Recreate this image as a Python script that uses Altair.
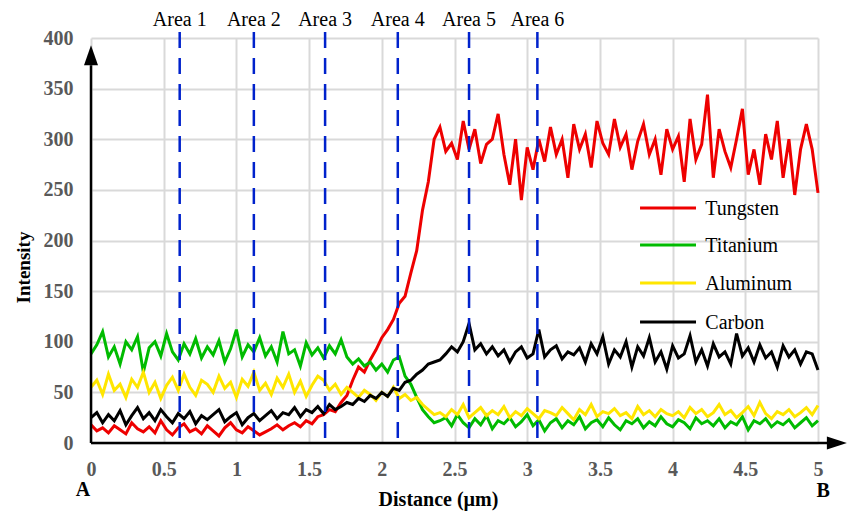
import altair as alt
import pandas as pd

# ---------------- data ----------------
x_step = 0.04  # sample spacing along the line scan (µm)

tungsten = [18, 12, 15, 10, 17, 13, 9, 20, 14, 11,
            16, 10, 22, 13, 8, 15, 19, 11, 14, 9,
            17, 12, 7, 15, 20, 13, 10, 16, 12, 8,
            11, 14, 18, 13, 17, 20, 16, 22, 19, 26,
            28, 33, 31, 40, 47, 62, 75, 70, 82, 92,
            104, 112, 122, 138, 145, 168, 190, 230, 258, 300,
            312, 288, 296, 280, 318, 290, 310, 276, 295, 300,
            325, 285, 255, 300, 240, 292, 270, 300, 278, 312,
            285, 300, 262, 315, 290, 305, 272, 318, 296, 285,
            320, 292, 305, 270, 298, 315, 285, 300, 265, 310,
            290, 303, 258, 320, 280, 295, 344, 262, 310, 288,
            272, 300, 330, 265, 290, 255, 305, 280, 318, 262,
            300, 245, 290, 315, 290, 247]

titanium = [88, 97, 110, 85, 95, 78, 100, 92, 105, 70,
            94, 100, 86, 108, 90, 82, 98, 88, 103, 84,
            95, 87, 101, 80, 93, 112, 85, 97, 90, 104,
            86, 95, 80, 110, 88, 92, 76, 99, 87, 94,
            84, 96, 88, 102, 85, 78, 83, 76, 80, 72,
            78, 70, 82, 85, 66, 58, 45, 33, 26, 20,
            22, 25, 17, 28, 20, 15, 24, 18, 27, 14,
            22, 19, 25, 16, 21, 28, 17, 23, 12, 20,
            24, 15, 22, 18, 26, 14, 20, 23, 16, 25,
            18, 13, 22, 19, 24, 15, 21, 17, 26, 19,
            16, 23, 20, 14, 25, 19, 22, 17, 24, 15,
            21, 18, 26, 13, 22, 19, 24, 16, 21, 18,
            23, 15, 20, 25, 17, 22]

aluminum = [55, 62, 48, 68, 52, 58, 45, 63, 55, 70,
            50, 60, 44, 57, 65, 52, 68, 55, 47, 62,
            58, 50, 66, 54, 60, 45, 63, 56, 70, 52,
            59, 48, 64, 55, 68, 50, 61, 46, 57, 66,
            62, 52, 58, 48, 55, 50, 45, 52, 48, 42,
            50, 46, 55, 44, 48, 42, 45, 38, 33, 28,
            30, 26, 33, 28, 38, 25, 30, 35, 27, 32,
            28, 36, 25, 31, 27, 34, 29, 24, 32, 30,
            27, 35, 29, 23, 33, 28, 38, 26, 31, 29,
            34, 27, 30, 24, 36, 28, 32, 26, 33, 29,
            27, 31, 25, 35, 29, 33, 26, 30, 38, 28,
            32, 25, 30, 36, 27, 40, 29, 24, 31, 28,
            33, 26, 30, 35, 28, 37]

carbon = [25, 30, 20, 28, 22, 32, 18, 27, 35, 24,
          30, 22, 33, 26, 20, 29, 24, 31, 19, 27,
          23, 28, 33, 21, 26, 30, 18, 25, 29, 22,
          27, 32, 24, 30, 28, 35, 26, 33, 30, 36,
          29, 38, 33, 36, 40, 38, 44, 41, 47, 44,
          50, 46, 54, 52, 60, 62, 68, 72, 78, 80,
          82, 88, 95, 90, 100, 118, 92, 98, 88, 95,
          86, 92, 80, 90, 95, 84, 88, 112, 85, 92,
          96, 83, 90, 87, 94, 80, 98, 88, 105, 78,
          92, 85, 100, 75, 95, 86, 104, 80, 90, 73,
          96, 84, 88, 106, 80, 92, 76, 98, 85, 90,
          78, 108, 86, 94, 80, 97, 84, 90, 75, 96,
          85, 92, 78, 90, 88, 72]

series_names = ["Tungsten", "Titanium", "Aluminum", "Carbon"]
series_colors = ["#ee0000", "#00bb00", "#ffe600", "#000000"]

area_labels = ["Area 1", "Area 2", "Area 3", "Area 4", "Area 5", "Area 6"]
area_positions = [0.61, 1.12, 1.61, 2.11, 2.60, 3.07]

x_ticks = [0, 0.5, 1, 1.5, 2, 2.5, 3, 3.5, 4, 4.5, 5]
y_ticks = [0, 50, 100, 150, 200, 250, 300, 350, 400]

end_labels = ["A", "B"]
end_label_x = [-0.055, 5.035]
end_label_y = [-46, -47]

# in-plot legend placement (data units)
legend_row_y = [232, 195.5, 158, 119.5]
legend_x0, legend_x1, legend_text_x = 3.776, 4.161, 4.225

# ---------------- tables ----------------
n = len(tungsten)
dist = [round(i * x_step, 2) for i in range(n)]
rows = []
for name, vals in zip(series_names, [tungsten, titanium, aluminum, carbon]):
    for d, v in zip(dist, vals):
        rows.append({"Distance": d, "Intensity": v, "Element": name})
df = pd.DataFrame(rows)

df_area = pd.DataFrame({"Distance": area_positions, "label": area_labels,
                        "Intensity": [406] * 6, "bottom": [0] * 6, "labely": [412] * 6})

df_legend = pd.DataFrame({"Element": series_names, "Intensity": legend_row_y,
                          "Distance": [legend_x0] * 4, "x1": [legend_x1] * 4,
                          "tx": [legend_text_x] * 4})

df_yaxis = pd.DataFrame({"Distance": [0], "Intensity": [0], "y1": [373]})
df_xaxis = pd.DataFrame({"Distance": [0], "x1": [5.07], "Intensity": [0]})
df_yarrow = pd.DataFrame({"Distance": [0], "Intensity": [383]})
df_xarrow = pd.DataFrame({"Distance": [5.13], "Intensity": [0]})
df_ends = pd.DataFrame({"Distance": end_label_x, "Intensity": end_label_y, "t": end_labels})

SERIF = "Liberation Serif"
xscale = alt.Scale(domain=[0, 5], nice=False, zero=False)
yscale = alt.Scale(domain=[0, 400], nice=False)
cscale = alt.Scale(domain=series_names, range=series_colors)

x_axis = alt.Axis(values=x_ticks, format="~g", grid=True, gridColor="#d9d9d9", gridWidth=2,
                  domain=False, ticks=False, labelFont=SERIF, labelFontWeight="bold",
                  labelFontSize=20, labelColor="#595959", labelPadding=16, labelFlush=False,
                  title="Distance (µm)", titleFont=SERIF, titleFontWeight="bold",
                  titleFontSize=20, titleColor="black", titleX=347, titleY=62,
                  titleAlign="center", titleBaseline="alphabetic")
y_axis = alt.Axis(values=y_ticks, grid=True, gridColor="#d9d9d9", gridWidth=2,
                  domain=False, ticks=False, labelFont=SERIF, labelFontWeight="bold",
                  labelFontSize=20, labelColor="#595959", labelPadding=18, labelFlush=False,
                  title="Intensity", titleFont=SERIF, titleFontWeight="bold",
                  titleFontSize=19, titleColor="black", titleAngle=270, titleX=-62, titleY=229,
                  titleAlign="center", titleBaseline="alphabetic")

X = lambda f="Distance:Q": alt.X(f, scale=xscale, axis=x_axis)
Y = lambda f="Intensity:Q": alt.Y(f, scale=yscale, axis=y_axis)

lines = alt.Chart(df).mark_line(strokeWidth=3).encode(
    x=X(),
    y=Y(),
    color=alt.Color("Element:N", sort=series_names, scale=cscale, legend=None),
    order=alt.Order("Distance:Q"),
)

legend_lines = alt.Chart(df_legend).mark_rule(strokeWidth=3).encode(
    x=X(), x2="x1:Q", y=Y(),
    color=alt.Color("Element:N", sort=series_names, scale=cscale, legend=None),
)
legend_text = alt.Chart(df_legend).mark_text(font=SERIF, fontSize=20, color="black",
                                             align="left", baseline="middle", dy=1).encode(
    x=X("tx:Q"), y=Y(), text="Element:N",
)

area_rules = alt.Chart(df_area).mark_rule(color="#0022cc", strokeWidth=2.5, strokeDash=[16, 10]).encode(
    x=X(), y=Y(), y2="bottom:Q",
)

area_text = alt.Chart(df_area).mark_text(font=SERIF, fontSize=20, color="black",
                                         baseline="alphabetic", align="center").encode(
    x=X(), y=Y("labely:Q"), text="label:N",
)

y_line = alt.Chart(df_yaxis).mark_rule(color="black", strokeWidth=2.5).encode(
    x=X(), y=Y(), y2="y1:Q",
)
x_line = alt.Chart(df_xaxis).mark_rule(color="black", strokeWidth=2.5).encode(
    x=X(), x2="x1:Q", y=Y(),
)
y_arrow = alt.Chart(df_yarrow).mark_point(shape="M0,-1L0.7,1L-0.7,1Z", size=400, filled=True,
                                          color="black", opacity=1).encode(x=X(), y=Y())
x_arrow = alt.Chart(df_xarrow).mark_point(shape="M1,0L-1,-0.65L-1,0.65Z", size=400, filled=True,
                                          color="black", opacity=1).encode(x=X(), y=Y())
ends = alt.Chart(df_ends).mark_text(font=SERIF, fontSize=20, fontWeight="bold", color="black",
                                    align="center", baseline="middle").encode(
    x=X(), y=Y(), text="t:N",
)

chart = alt.layer(lines, area_rules, area_text, legend_lines, legend_text,
                  y_line, x_line, y_arrow, x_arrow, ends).properties(
    width=727, height=405,
    autosize=alt.AutoSizeParams(type="none"),
    padding={"left": 91, "top": 38, "right": 33, "bottom": 72},
    background="white",
).configure(font=SERIF).configure_view(stroke=None)

chart.save("out.html", embed_options={"renderer": "svg", "actions": False})
